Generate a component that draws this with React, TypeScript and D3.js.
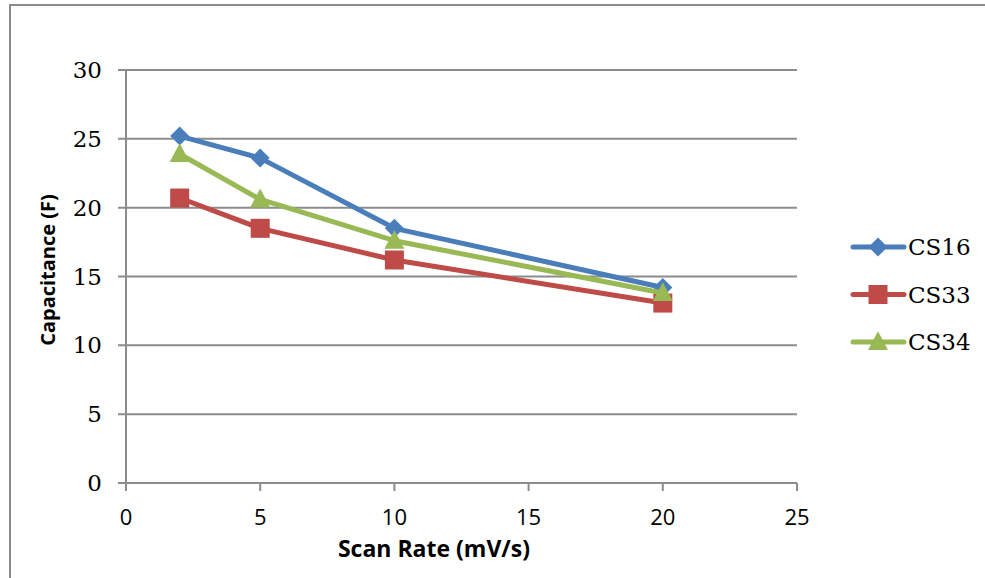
import React from "react";
import * as d3 from "d3";

const scanRates = [2, 5, 10, 20];
const cs16 = [25.2, 23.6, 18.5, 14.2];
const cs33 = [20.7, 18.5, 16.2, 13.07];
const cs34 = [23.9, 20.6, 17.6, 13.8];
const seriesNames = ["CS16", "CS33", "CS34"];
const xTicks = [0, 5, 10, 15, 20, 25];
const yTicks = [0, 5, 10, 15, 20, 25, 30];

const W = 985;
const H = 578;
const colors = ["#4A7EBB", "#BE4B48", "#98B954"];
const markers = ["diamond", "square", "triangle"];

function Marker({ type, x, y, color }: { type: string; x: number; y: number; color: string }) {
  if (type === "diamond") {
    const r = 9.5;
    return <path d={`M${x},${y - r}L${x + r},${y}L${x},${y + r}L${x - r},${y}Z`} fill={color} />;
  }
  if (type === "square") {
    const s = 19;
    return <rect x={x - s / 2} y={y - s / 2} width={s} height={s} fill={color} />;
  }
  const w = 20;
  const h = 18;
  return <path d={`M${x},${y - h * 0.6}L${x + w / 2},${y + h * 0.45}L${x - w / 2},${y + h * 0.45}Z`} fill={color} />;
}

export default function App() {
  const x = d3.scaleLinear().domain([0, 25]).range([126, 797]);
  const y = d3.scaleLinear().domain([0, 30]).range([483, 70]);
  const data = [cs16, cs33, cs34];
  const line = d3
    .line<[number, number]>()
    .x((d) => x(d[0]))
    .y((d) => y(d[1]));
  const grid = "#8C8C8C";
  const serif = "'DejaVu Serif', serif";
  const sans = "'Open Sans', sans-serif";

  return (
    <div style={{ position: "absolute", left: 0, top: 0 }}>
      <svg width={W} height={H} style={{ display: "block", background: "#fff" }}>
        <rect x={10} y={5} width={1000} height={600} fill="#fff" stroke="#8C8C8C" strokeWidth={2} />
        {yTicks.map((t) => (
          <g key={"y" + t}>
            <line x1={118} x2={797} y1={y(t)} y2={y(t)} stroke={grid} strokeWidth={2} />
            <text x={102} y={y(t)} textAnchor="end" dominantBaseline="central" fontFamily={serif} fontSize={23} fill="#000">
              {t}
            </text>
          </g>
        ))}
        <line x1={126} x2={126} y1={70} y2={491} stroke={grid} strokeWidth={2} />
        {xTicks.map((t) => (
          <g key={"x" + t}>
            <line x1={x(t)} x2={x(t)} y1={483} y2={491} stroke={grid} strokeWidth={2} />
            <text x={x(t)} y={516} textAnchor="middle" dominantBaseline="central" fontFamily={sans} fontSize={22} fill="#000">
              {t}
            </text>
          </g>
        ))}
        {data.map((vals, i) => (
          <g key={seriesNames[i]}>
            <path
              d={line(vals.map((v, j) => [scanRates[j], v]) as [number, number][]) || ""}
              fill="none"
              stroke={colors[i]}
              strokeWidth={5}
              strokeLinejoin="round"
            />
            {vals.map((v, j) => (
              <Marker key={j} type={markers[i]} x={x(scanRates[j])} y={y(v)} color={colors[i]} />
            ))}
          </g>
        ))}
        <text x={434} y={548} textAnchor="middle" dominantBaseline="central" fontFamily={sans} fontWeight="bold" fontSize={23} fill="#000">
          Scan Rate (mV/s)
        </text>
        <text
          transform="translate(47,270) rotate(-90)"
          textAnchor="middle"
          dominantBaseline="central"
          fontFamily={sans}
          fontWeight="bold"
          fontSize={20}
          fill="#000"
        >
          Capacitance (F)
        </text>
        {seriesNames.map((n, i) => {
          const ly = 247 + i * 47.5;
          return (
            <g key={"lg" + n}>
              <line x1={853} x2={904} y1={ly} y2={ly} stroke={colors[i]} strokeWidth={5} strokeLinecap="round" />
              <Marker type={markers[i]} x={878} y={ly} color={colors[i]} />
              <text x={908} y={ly} dominantBaseline="central" fontFamily={serif} fontSize={23} fill="#000">
                {n}
              </text>
            </g>
          );
        })}
      </svg>
    </div>
  );
}
